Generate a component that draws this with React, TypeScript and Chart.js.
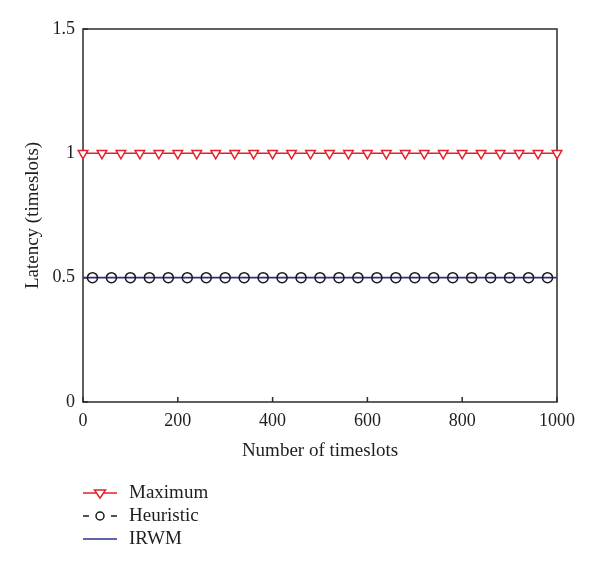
import React, { useEffect, useRef } from "react";
import { Chart, registerables } from "chart.js";

Chart.register(...registerables);

const maximumX = [0, 40, 80, 120, 160, 200, 240, 280, 320, 360, 400, 440, 480, 520, 560, 600, 640, 680, 720, 760, 800, 840, 880, 920, 960, 1000];
const maximumY = [1, 1, 1, 1, 1, 1, 1, 1, 1, 1, 1, 1, 1, 1, 1, 1, 1, 1, 1, 1, 1, 1, 1, 1, 1, 1];
const heuristicX = [20, 60, 100, 140, 180, 220, 260, 300, 340, 380, 420, 460, 500, 540, 580, 620, 660, 700, 740, 780, 820, 860, 900, 940, 980];
const heuristicY = [0.5, 0.5, 0.5, 0.5, 0.5, 0.5, 0.5, 0.5, 0.5, 0.5, 0.5, 0.5, 0.5, 0.5, 0.5, 0.5, 0.5, 0.5, 0.5, 0.5, 0.5, 0.5, 0.5, 0.5, 0.5];
const irwmX = [0, 1000];
const irwmY = [0.5, 0.5];
const seriesLabels = ["Maximum", "Heuristic", "IRWM"];
const xTicks = [0, 200, 400, 600, 800, 1000];
const yTicks = [0, 0.5, 1, 1.5];
const xTitle = "Number of timeslots";
const yTitle = "Latency (timeslots)";

const RED = "#e3202a";
const BLUE = "#2a2f8c";
const BLACK = "#1a1a1a";
const TEXT = "#1e1e1e";
const FONT = "'Liberation Serif', 'Times New Roman', serif";

const toPts = (xs: number[], ys: number[]) => xs.map((x, i) => ({ x, y: ys[i] }));

const framePlugin = {
  id: "frame",
  beforeDatasetsDraw(chart: any) {
    const { ctx, chartArea: a, scales } = chart;
    ctx.save();
    ctx.strokeStyle = "#2b2b2b";
    ctx.lineWidth = 1.5;
    ctx.strokeRect(a.left, a.top, a.right - a.left, a.bottom - a.top);
    ctx.beginPath();
    const tl = 5;
    xTicks.forEach((v) => {
      const px = scales.x.getPixelForValue(v);
      ctx.moveTo(px, a.bottom);
      ctx.lineTo(px, a.bottom - tl);
    });
    yTicks.forEach((v) => {
      const py = scales.y.getPixelForValue(v);
      ctx.moveTo(a.left, py);
      ctx.lineTo(a.left + tl, py);
    });
    ctx.stroke();
    ctx.restore();
  },
  afterDraw(chart: any) {
    const { ctx } = chart;
    const x0 = 83;
    const x1 = 117;
    const ys = [493, 516, 539];
    ctx.save();
    chart.data.datasets.forEach((ds: any, i: number) => {
      const y = ys[i];
      ctx.strokeStyle = ds.borderColor;
      ctx.lineWidth = 1.5;
      ctx.setLineDash(ds.legendDash || []);
      ctx.beginPath();
      ctx.moveTo(x0, y);
      ctx.lineTo(x1, y);
      ctx.stroke();
      ctx.setLineDash([]);
      const cx = (x0 + x1) / 2;
      if (ds.pointStyle === "triangle") {
        const r = 5.5;
        ctx.fillStyle = "#ffffff";
        ctx.strokeStyle = ds.pointBorderColor;
        ctx.beginPath();
        ctx.moveTo(cx - r, y - r * 0.55);
        ctx.lineTo(cx + r, y - r * 0.55);
        ctx.lineTo(cx, y + r * 0.95);
        ctx.closePath();
        ctx.fill();
        ctx.stroke();
      } else if (ds.pointStyle === "circle" && ds.pointRadius > 0) {
        ctx.fillStyle = "#ffffff";
        ctx.strokeStyle = ds.pointBorderColor;
        ctx.beginPath();
        ctx.arc(cx, y, 4, 0, Math.PI * 2);
        ctx.fill();
        ctx.stroke();
      }
      ctx.fillStyle = TEXT;
      ctx.font = `19px ${FONT}`;
      ctx.textBaseline = "middle";
      ctx.textAlign = "left";
      ctx.fillText(ds.label, 129, y);
    });
    ctx.restore();
  },
};

export default function App() {
  const ref = useRef<HTMLCanvasElement>(null);
  useEffect(() => {
    if (!ref.current) return;
    const chart = new Chart(ref.current, {
      type: "scatter",
      data: {
        datasets: [
          {
            label: seriesLabels[0],
            data: toPts(maximumX, maximumY),
            showLine: true,
            clip: 10,
            borderColor: RED,
            borderWidth: 1.5,
            pointStyle: "triangle",
            pointRotation: 180,
            pointRadius: 5.5,
            pointBorderColor: RED,
            pointBackgroundColor: "#ffffff",
            pointBorderWidth: 1.5,
            order: 0,
          } as any,
          {
            label: seriesLabels[1],
            data: toPts(heuristicX, heuristicY),
            showLine: false,
            clip: 10,
            borderColor: BLACK,
            legendDash: [6, 22],
            pointStyle: "circle",
            pointRadius: 5,
            pointBorderColor: BLACK,
            pointBackgroundColor: "rgba(255,255,255,0)",
            pointBorderWidth: 1.5,
            order: 1,
          } as any,
          {
            label: seriesLabels[2],
            data: toPts(irwmX, irwmY),
            showLine: true,
            clip: 10,
            borderColor: BLUE,
            borderWidth: 1.6,
            pointRadius: 0,
            pointStyle: "circle",
            order: 2,
          } as any,
        ],
      },
      options: {
        animation: false,
        responsive: false,
        maintainAspectRatio: false,
        layout: { padding: { left: 0, right: 43, top: 29, bottom: 106 } },
        plugins: { legend: { display: false }, tooltip: { enabled: false } },
        scales: {
          x: {
            type: "linear",
            min: 0,
            max: 1000,
            afterBuildTicks: (s: any) => {
              s.ticks = xTicks.map((v) => ({ value: v }));
            },
            afterFit: (s: any) => {
              s.height = 60;
            },
            grid: { display: false, drawTicks: false },
            border: { display: false },
            ticks: {
              padding: 8,
              color: TEXT,
              font: { family: FONT, size: 18 },
              callback: (v: any) => String(v),
              maxRotation: 0,
            },
            title: {
              display: true,
              text: xTitle,
              color: TEXT,
              font: { family: FONT, size: 19 },
              padding: { top: 0, bottom: 0 },
            },
          },
          y: {
            type: "linear",
            min: 0,
            max: 1.5,
            afterBuildTicks: (s: any) => {
              s.ticks = yTicks.map((v) => ({ value: v }));
            },
            afterFit: (s: any) => {
              s.width = 83;
            },
            grid: { display: false, drawTicks: false },
            border: { display: false },
            ticks: {
              padding: 8,
              color: TEXT,
              font: { family: FONT, size: 18 },
              callback: (v: any) => String(v),
            },
            title: {
              display: true,
              text: yTitle,
              color: TEXT,
              font: { family: FONT, size: 19 },
              padding: { top: 22, bottom: 0 },
            },
          },
        },
      },
      plugins: [framePlugin],
    });
    return () => chart.destroy();
  }, []);
  return (
    <div style={{ position: "fixed", left: 0, top: 0, width: 600, height: 568, background: "#ffffff" }}>
      <canvas ref={ref} width={600} height={568} style={{ width: 600, height: 568 }} />
    </div>
  );
}
